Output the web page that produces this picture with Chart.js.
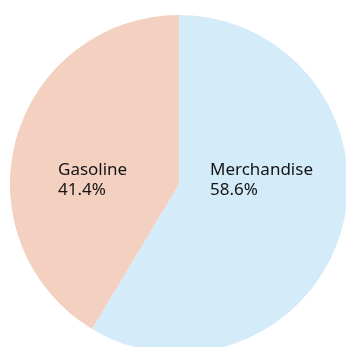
<!DOCTYPE html>
<html>
<head>
<meta charset="utf-8">
<script src="https://cdn.jsdelivr.net/npm/chart.js@4"></script>
<style>
  html, body { margin: 0; padding: 0; background: #fff; overflow: hidden; width: 346px; height: 347px; }
  #wrap { position: absolute; left: 10px; top: 15px; width: 338px; height: 338px; }
</style>
</head>
<body>
<div id="wrap"><canvas id="pie" width="338" height="338"></canvas></div>
<script>
// ---- data ----
const categories = ['Merchandise', 'Gasoline'];
const shares = [58.6, 41.4];
const sliceColors = ['#d4ebf9', '#f3d0bf'];

// label text placed relative to the pie centre
const labelOffsets = [{dx: 31, dy: -9}, {dx: -121, dy: -9}];

const sliceLabels = {
  id: 'sliceLabels',
  afterDatasetsDraw(chart) {
    const ctx = chart.ctx;
    const meta = chart.getDatasetMeta(0);
    ctx.save();
    ctx.font = '17px "Noto Sans", sans-serif';
    ctx.fillStyle = '#141414';
    ctx.textAlign = 'left';
    ctx.textBaseline = 'alphabetic';
    meta.data.forEach((arc, i) => {
      const o = labelOffsets[i];
      const x = arc.x + o.dx, y = arc.y + o.dy;
      ctx.fillText(chart.data.labels[i], x, y);
      ctx.fillText(chart.data.datasets[0].data[i].toFixed(1) + '%', x, y + 20);
    });
    ctx.restore();
  }
};

new Chart(document.getElementById('pie'), {
  type: 'pie',
  data: {
    labels: categories,
    datasets: [{ data: shares, backgroundColor: sliceColors, borderWidth: 0 }]
  },
  options: {
    responsive: false,
    animation: false,
    layout: { padding: 0 },
    plugins: { legend: { display: false }, tooltip: { enabled: false } }
  },
  plugins: [sliceLabels]
});
</script>
</body>
</html>
